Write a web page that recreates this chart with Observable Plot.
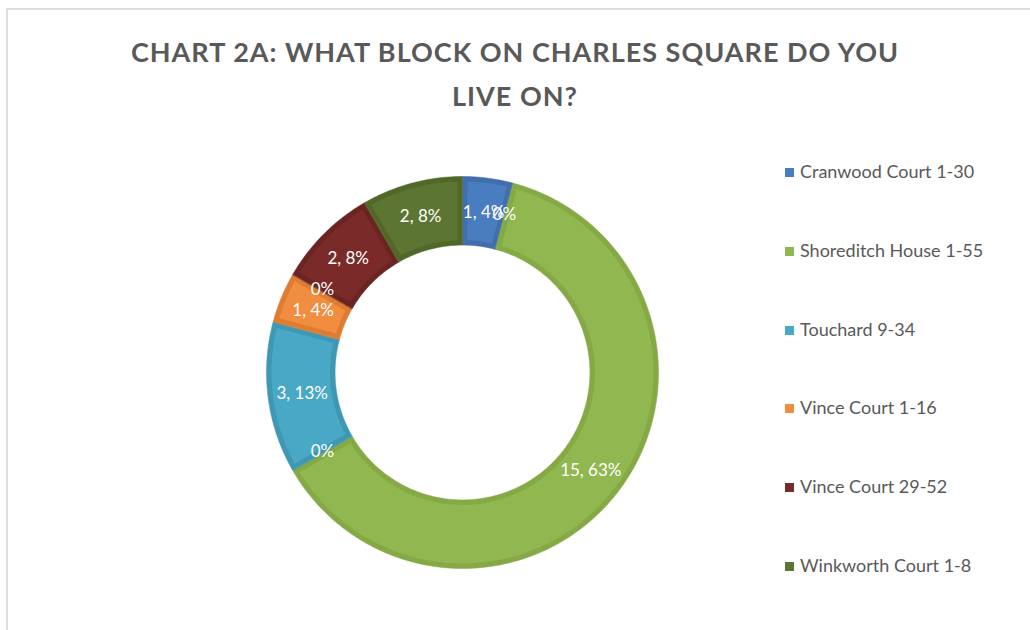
<!DOCTYPE html>
<html><head><meta charset="utf-8">
<script src="https://cdn.jsdelivr.net/npm/d3@7"></script>
<script src="https://cdn.jsdelivr.net/npm/@observablehq/plot@0.6"></script>
<style>
body{margin:0;background:#fff;}
#wrap{position:relative;width:1030px;height:630px;overflow:hidden;font-family:Lato,"Open Sans",sans-serif;}
#frame{position:absolute;left:6px;top:8px;width:1030px;height:640px;border-top:2px solid #dedede;border-left:2px solid #dedede;}
#title{position:absolute;left:0;top:30px;width:1030px;text-align:center;font-weight:bold;font-size:27px;letter-spacing:1px;line-height:44px;color:#595959;}
#chart{position:absolute;left:0;top:130px;}
#legend{position:absolute;left:785px;top:0;}
.item{position:absolute;left:0;white-space:nowrap;font-size:18px;line-height:20px;color:#595959;}
.sw{display:inline-block;width:9px;height:9px;margin-right:6px;vertical-align:1px;}
</style></head>
<body><div id="wrap"><div id="frame"></div><div id="title">CHART 2A: WHAT BLOCK ON CHARLES SQUARE DO YOU<br>LIVE ON?</div><div id="chart"></div><div id="legend"></div></div>
<script>
// ---- data ----
const blocks = ["Cranwood Court 1-30","Shoreditch House 1-55","Touchard 9-34","Vince Court 1-16","Vince Court 29-52","Winkworth Court 1-8"];
const counts = [1, 15, 3, 1, 2, 2];
const colors = ["#4A7DC0","#91B751","#48A8C5","#F08D3F","#7A2B29","#5D7532"];
const edgeColors = ["#416FAE","#84A945","#3F98B3","#DE7D31","#6A2422","#516829"];
// empty (0) categories that Excel still labels "0%", placed right after these blocks
const zeroAfter = ["Cranwood Court 1-30","Shoreditch House 1-55","Vince Court 1-16"];

// ---- layout ----
const R_IN = 0.65;                 // inner radius as fraction of outer
const total = d3.sum(counts);
const deg = Math.PI / 180;
let acc = 0;
const slices = blocks.map((name, i) => {
  const a0 = acc / total * 2 * Math.PI;
  acc += counts[i];
  const a1 = acc / total * 2 * Math.PI;
  return {name, value: counts[i], a0, a1, color: colors[i], edge: edgeColors[i]};
});

function ring(a0, a1, ro, ri, d) {
  const pts = [];
  const oa0 = a0 + d / ro, oa1 = a1 - d / ro;
  const ia0 = a0 + d / ri, ia1 = a1 - d / ri;
  const n = Math.max(2, Math.ceil((a1 - a0) / deg));
  for (let k = 0; k <= n; k++) { const a = oa0 + (oa1 - oa0) * k / n; pts.push({x: ro * Math.sin(a), y: ro * Math.cos(a)}); }
  for (let k = n; k >= 0; k--) { const a = ia0 + (ia1 - ia0) * k / n; pts.push({x: ri * Math.sin(a), y: ri * Math.cos(a)}); }
  return pts;
}
const bev = 5 / 196;
const rMid = (1 + R_IN) / 2;
const pct = v => Math.round(v / total * 100) + "%";
const labels = slices.map(s => {
  const a = (s.a0 + s.a1) / 2;
  return {x: rMid * Math.sin(a), y: rMid * Math.cos(a), text: s.value + ", " + pct(s.value)};
});
const zeroLabels = zeroAfter.map(n => {
  const s = slices.find(d => d.name === n);
  return {x: rMid * Math.sin(s.a1), y: rMid * Math.cos(s.a1), text: "0%"};
});

const marks = [];
for (const s of slices) {
  marks.push(Plot.line(ring(s.a0, s.a1, 1, R_IN, 0), {x: "x", y: "y", fill: s.edge, stroke: s.edge, strokeWidth: 0.5, curve: "linear-closed"}));
  marks.push(Plot.line(ring(s.a0, s.a1, 1 - bev, R_IN + bev, bev), {x: "x", y: "y", fill: s.color, stroke: "none", curve: "linear-closed"}));
}
marks.push(Plot.text(labels, {x: "x", y: "y", text: "text", fill: "#ffffff", fontSize: 17, fontFamily: "Lato, sans-serif"}));
marks.push(Plot.text(zeroLabels, {x: "x", y: "y", dy: -2, text: "text", fill: "#ffffff", fontSize: 17, fontFamily: "Lato, sans-serif"}));

const chart = Plot.plot({
  width: 1030, height: 500, margin: 0,
  x: {domain: [-1, 1], range: [266, 658], axis: null},
  y: {domain: [-1, 1], range: [438, 46], axis: null},
  style: {background: "transparent", overflow: "visible"},
  marks
});
document.getElementById("chart").appendChild(chart);

const legend = document.getElementById("legend");
blocks.forEach((b, i) => {
  const div = document.createElement("div");
  div.className = "item";
  div.style.top = (161 + i * 78.8) + "px";
  div.innerHTML = `<span class="sw" style="background:${colors[i]}"></span>${b}`;
  legend.appendChild(div);
});
</script>
</body></html>
